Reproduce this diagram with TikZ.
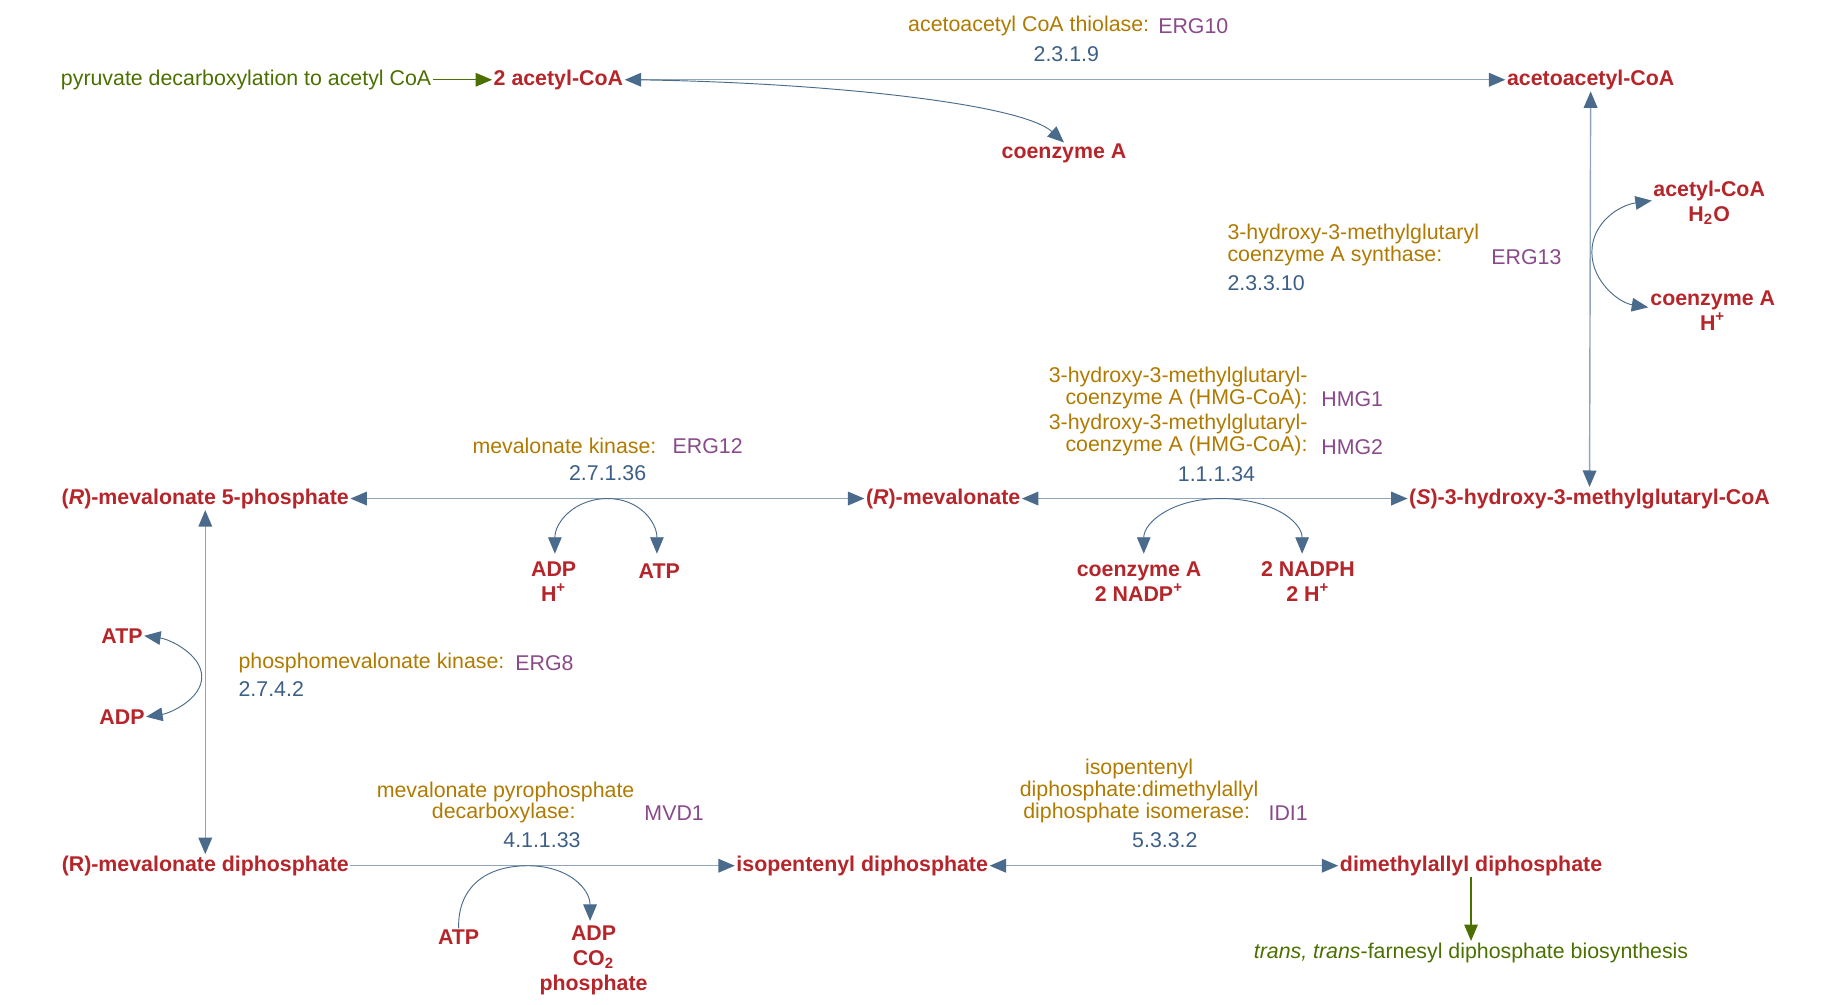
\documentclass[tikz,border=0pt]{standalone}
\usepackage{fontspec}
\setmainfont{Liberation Sans}
\usetikzlibrary{arrows.meta}
\definecolor{cpd}{HTML}{B5252A}
\definecolor{enz}{HTML}{B07A00}
\definecolor{gene}{HTML}{8A4A8A}
\definecolor{ec}{HTML}{3B5F86}
\definecolor{arr}{HTML}{4A6B8C}
\definecolor{lin}{HTML}{8FA5BC}
\definecolor{grn}{HTML}{4B7000}
\begin{document}
\begin{tikzpicture}[x=0.5pt,y=-0.5pt,
  cpd/.style={text=cpd,font=\bfseries\fontsize{9.1}{10.6}\selectfont,inner sep=0.5pt,align=center},
  lab/.style={font=\fontsize{9.1}{9.4}\selectfont,inner sep=0.5pt},
  enz/.style={lab,text=enz},
  gene/.style={lab,text=gene},
  ec/.style={lab,text=ec},
  pw/.style={lab,text=grn},
  tip/.style={-{Triangle[length=7pt,width=5.8pt]}},
  both/.style={{Triangle[length=7pt,width=5.8pt]}-{Triangle[length=7pt,width=5.8pt]}},
  main/.style={draw=lin,line width=0.6pt,arrows={[color=arr]}},
  side/.style={draw=arr,line width=0.4pt},
  garr/.style={draw=grn,line width=0.5pt,-{Triangle[length=7pt,width=5.8pt]}}]
\useasboundingbox (0,0) rectangle (1560,856);
% compounds
\node[pw,anchor=east] (pyr) at (369,68) {pyruvate decarboxylation to acetyl CoA};
\node[cpd] (acc) at (476,68) {2 acetyl-CoA};
\node[cpd] (aac) at (1356,68) {acetoacetyl-CoA};
\node[cpd] (coa1) at (907,131) {coenzyme A};
\node[cpd] (hmg) at (1355,425) {(\textit{S})-3-hydroxy-3-methylglutaryl-CoA};
\node[cpd] (s1) at (1457,173) {acetyl-CoA\\H\textsubscript{2}O};
\node[cpd] (s2) at (1460,265) {coenzyme A\\H\textsuperscript{+}};
\node[cpd] (mev) at (804,425) {(\textit{R})-mevalonate};
\node[cpd] (m5p) at (175,425) {(\textit{R})-mevalonate 5-phosphate};
\node[cpd] (adp1) at (472,496) {ADP\\H\textsuperscript{+}};
\node[cpd] (atp1) at (562,487) {ATP};
\node[cpd] (coa2) at (971,496) {coenzyme A\\2 NADP\textsuperscript{+}};
\node[cpd] (nadph) at (1115,496) {2 NADPH\\2 H\textsuperscript{+}};
\node[cpd] (atp2) at (104,542) {ATP};
\node[cpd] (adp2) at (104,611) {ADP};
\node[cpd] (mpp) at (175,738) {(R)-mevalonate diphosphate};
\node[cpd] (ipp) at (735,738) {isopentenyl diphosphate};
\node[cpd] (dmapp) at (1254,738) {dimethylallyl diphosphate};
\node[cpd] (atp3) at (391,799) {ATP};
\node[cpd,anchor=north] (prod3) at (506,788) {ADP\\CO\textsubscript{2}\\phosphate};
\node[pw] (fpp) at (1254,812) {\textit{trans, trans}-farnesyl diphosphate biosynthesis};
% enzyme labels
\node[enz,anchor=east] (e1) at (981,22) {acetoacetyl CoA thiolase:};
\node[gene,anchor=west] (g1) at (986,22) {ERG10};
\node[ec] (n1) at (909,46) {2.3.1.9};
\node[enz,anchor=west,align=left] (e2) at (1045,209) {3-hydroxy-3-methylglutaryl\\coenzyme A synthase:};
\node[gene,anchor=west] (g2) at (1270,219) {ERG13};
\node[ec,anchor=west] (n2) at (1045,241) {2.3.3.10};
\node[enz,anchor=east,align=right] (e3) at (1116,331) {3-hydroxy-3-methylglutaryl-\\coenzyme A (HMG-CoA):};
\node[gene,anchor=west] (g3) at (1125,340) {HMG1};
\node[enz,anchor=east,align=right] (e4) at (1116,371) {3-hydroxy-3-methylglutaryl-\\coenzyme A (HMG-CoA):};
\node[gene,anchor=west] (g4) at (1125,381) {HMG2};
\node[ec] (n3) at (1037,404) {1.1.1.34};
\node[enz,anchor=east] (e5) at (561,380) {mevalonate kinase:};
\node[gene,anchor=west] (g5) at (572,380) {ERG12};
\node[ec] (n5) at (518,403) {2.7.1.36};
\node[enz,anchor=west] (e6) at (202,565) {phosphomevalonate kinase:};
\node[gene,anchor=west] (g6) at (438,565) {ERG8};
\node[ec,anchor=west] (n6) at (202,587) {2.7.4.2};
\node[enz] (e7a) at (431,675) {mevalonate pyrophosphate};
\node[enz,anchor=east] (e7b) at (492,693) {decarboxylase:};
\node[gene,anchor=west] (g7) at (548,693) {MVD1};
\node[ec] (n7) at (462,716) {4.1.1.33};
\node[enz,align=center] (e8a) at (971,665) {isopentenyl\\diphosphate:dimethylallyl};
\node[enz,anchor=east] (e8b) at (1067,693) {diphosphate isomerase:};
\node[gene,anchor=west] (g8) at (1080,693) {IDI1};
\node[ec] (n8) at (993,716) {5.3.3.2};
% main connectors
\draw[garr] (pyr) -- (acc);
\draw[main,both] (acc) -- (aac);
\draw[main,both] (aac) -- (hmg);
\draw[main,both] (hmg) -- (mev);
\draw[main,both] (mev) -- (m5p);
\draw[main,both] (m5p) -- (mpp);
\draw[main,tip] (mpp) -- (ipp);
\draw[main,both] (ipp) -- (dmapp);
\draw[garr] (dmapp) -- (fpp);
% side arcs
\coordinate (c1) at (540,68);
\draw[side,tip] (c1) .. controls (700,70) and (870,88) .. (coa1.north);
\coordinate (c2) at (1357,215);
\draw[side,tip] (c2) .. controls (1357,190) and (1380,175) .. (s1.west|-0,171);
\draw[side,tip] (c2) .. controls (1357,240) and (1380,258) .. (1405,262);
\coordinate (c3) at (518,425);
\draw[side,tip] (c3) .. controls (490,425) and (473,445) .. (473,472);
\draw[side,tip] (c3) .. controls (545,425) and (560,445) .. (560,472);
\coordinate (c4) at (1040,425);
\draw[side,tip] (c4) .. controls (1000,425) and (975,445) .. (975,472);
\draw[side,tip] (c4) .. controls (1085,425) and (1110,445) .. (1110,472);
\coordinate (c5) at (172,577);
\draw[side,tip] (c5) .. controls (172,558) and (145,545) .. (atp2.east);
\draw[side,tip] (c5) .. controls (172,596) and (145,608) .. (adp2.east);
\coordinate (c6) at (450,738);
\draw[side] (atp3.north) .. controls (390,760) and (410,738) .. (c6);
\draw[side,tip] (c6) .. controls (485,738) and (503,758) .. (503,785);
\end{tikzpicture}
\end{document}
